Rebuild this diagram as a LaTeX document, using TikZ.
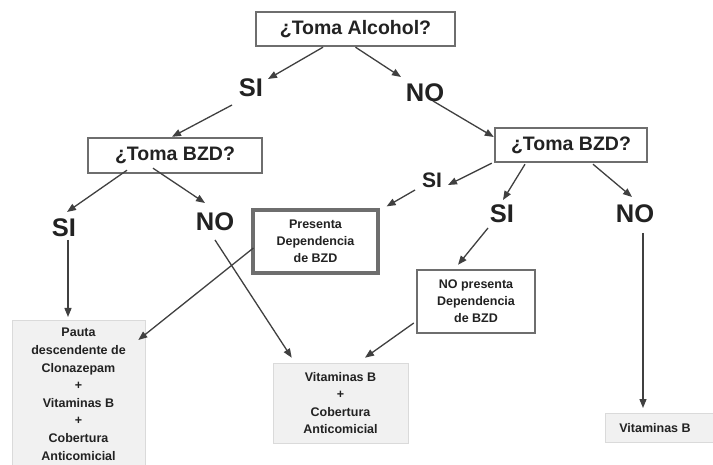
\documentclass[tikz,border=0pt]{standalone}
\usepackage{fontspec}
\setmainfont{Liberation Sans}
\usetikzlibrary{calc,arrows.meta}
\definecolor{ink}{HTML}{222222}
\definecolor{edge}{HTML}{6E6E6E}
\definecolor{arr}{HTML}{404040}
\definecolor{pale}{HTML}{F1F1F1}
\tikzset{
  qbox/.style={draw=edge, line width=2.4pt, text=ink, inner sep=0pt,
    font=\fontsize{19.5}{22}\selectfont\bfseries},
  dbox/.style={draw=edge, line width=2.4pt, text=ink, inner sep=0pt, align=center,
    font=\fontsize{12.5}{17}\selectfont\bfseries},
  tbox/.style={fill=pale, draw=pale!80!gray, line width=0.6pt, text=ink, inner sep=0pt, align=center,
    font=\fontsize{12.5}{17.5}\selectfont\bfseries},
  big/.style={text=ink, inner sep=0pt, font=\fontsize{25.5}{25.5}\selectfont\bfseries},
  mid/.style={text=ink, inner sep=0pt, font=\fontsize{21}{21}\selectfont\bfseries},
  conn/.style={draw=arr, line width=1.3pt, -{Triangle[length=9pt,width=7pt]}},
}
\begin{document}
\begin{tikzpicture}[x=1pt,y=-1pt]
\useasboundingbox[fill=white] (0,0) rectangle (713,465);
% question boxes
\node[qbox, minimum width=199pt, minimum height=34pt] (alc) at (355.5,29) {¿Toma Alcohol?};
\node[qbox, minimum width=174pt, minimum height=35pt] (bzdL) at (175,155.5) {¿Toma BZD?};
\node[qbox, minimum width=152pt, minimum height=34pt] (bzdR) at (571,145) {¿Toma BZD?};
% labels
\node[big] (si1) at (251,88) {SI};
\node[big] (no1) at (425,92.5) {NO};
\node[big] (siL) at (64,228) {SI};
\node[big] (noL) at (215,222) {NO};
\node[mid] (siR1) at (432,180) {SI};
\node[big] (siR2) at (502,214) {SI};
\node[big] (noR) at (635,214) {NO};
% dependence boxes
\node[dbox, line width=3.2pt, minimum width=125pt, minimum height=63pt] (pres) at (315.5,241.5) {Presenta\\Dependencia\\de BZD};
\node[dbox, minimum width=118pt, minimum height=63pt] (nopres) at (476,301.5) {NO presenta\\Dependencia\\de BZD};
% treatment boxes
\node[tbox, minimum width=133pt, minimum height=150pt, anchor=north] (pauta) at (78.5,320) {};
\node[text=ink, align=center, font=\fontsize{12.5}{17.6}\selectfont\bfseries, anchor=north, inner sep=0pt] (pautatxt) at (78.5,328) {Pauta\\descendente de\\Clonazepam\\+\\Vitaminas B\\+\\Cobertura\\Anticomicial};
\node[tbox, minimum width=135pt, minimum height=80pt] (vitmid) at (340.5,403) {Vitaminas B\\+\\Cobertura\\Anticomicial};
\node[tbox, minimum width=110pt, minimum height=29pt, anchor=north west] (vitR) at (605,413) {};
\node[text=ink, font=\fontsize{12.5}{15}\selectfont\bfseries, inner sep=0pt] (vitRtxt) at (655,428) {Vitaminas B};
\coordinate (noRout) at ($(noR)+(8,19)$);
% connectors
\draw[conn] ($(alc.south)+(-32.5,0)$) -- ($(si1)+(17,-9)$);
\draw[conn] ($(alc.south)+(0,0)$) -- ($(no1)+(-24,-15.5)$);
\draw[conn] ($(si1)+(-19,17)$) -- ($(bzdL.north)+(-3,0)$);
\draw[conn] ($(no1)+(8,8.5)$) -- ($(bzdR.west)+(0,-8)$);
\draw[conn] ($(bzdL.south)+(-48,-4)$) -- ($(siL)+(3,-16)$);
\draw[conn] ($(bzdL.south)+(-22,-6)$) -- ($(noL)+(-10,-19)$);
\draw[conn] ($(siL)+(4,12)$) -- ($(pauta.north)+(-10.5,-3)$);
\draw[conn] ($(pres.west)+(2,6.5)$) -- ($(pauta.north east)+(-7,20)$);
\draw[conn] ($(noL)+(0,18)$) -- ($(vitmid.north west)+(19,-5)$);
\draw[conn] ($(bzdR.south west)+(-2,0)$) -- ($(siR1)+(16,5)$);
\draw[conn] ($(siR1)+(-17,10)$) -- ($(pres.north east)+(7,-2)$);
\draw[conn] ($(bzdR.south)+(-46,1)$) -- ($(siR2)+(1,-14)$);
\draw[conn] ($(siR2)+(-14,14)$) -- ($(nopres.north)+(-18,-4)$);
\draw[conn] ($(bzdR.south)+(22,1)$) -- ($(noR)+(-3,-17)$);
\draw[conn, shorten >=5pt] (noRout) -- (noRout |- vitR.north);
\draw[conn] ($(nopres.west)+(-2,21.5)$) -- ($(vitmid.north)+(24.5,-5)$);
\end{tikzpicture}
\end{document}
